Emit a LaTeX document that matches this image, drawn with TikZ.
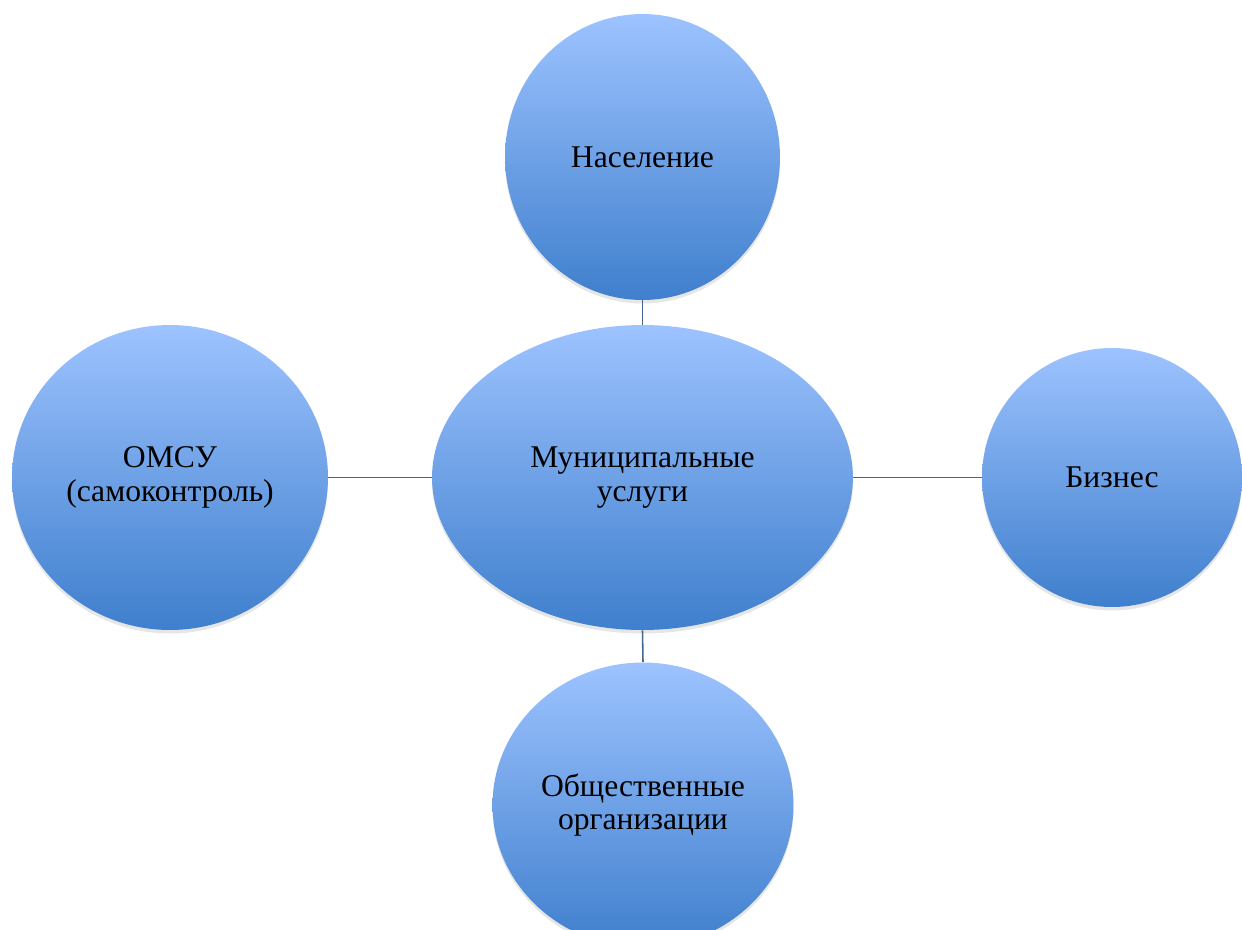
\documentclass[tikz,border=0pt]{standalone}
\usepackage{fontspec}
\setmainfont{Liberation Serif}
\usepackage{tikz}
\usetikzlibrary{shapes.geometric, shadows, positioning, calc}

\definecolor{bubtop}{HTML}{9DC3FF}
\definecolor{bubbot}{HTML}{3F7FCD}
\definecolor{linkcol}{HTML}{45678F}

\begin{document}
\begin{tikzpicture}[
    x=0.02cm, y=-0.02cm,
    bubble/.style={ellipse, draw=none, inner sep=0pt, align=center,
        top color=bubtop, bottom color=bubbot,
        font=\fontsize{18}{19}\selectfont,
        drop shadow={opacity=0.2, shadow xshift=0pt, shadow yshift=-2pt}},
    link/.style={linkcol, line width=0.9pt}
]
\useasboundingbox (0,0) rectangle (1242,930);
\clip (0,0) rectangle (1242,930);

% center
\node (Uslugi) at (642.5, 477.5) [bubble, minimum width=8.42cm, minimum height=6.1cm] {Муниципальные\\услуги};

% outer bubbles
\node (Nasel) at (642.5, 157) [bubble, minimum width=5.5cm, minimum height=5.72cm] {Население};
\node (Omsu) at (170, 477.5) [bubble, minimum width=6.32cm, minimum height=6.1cm] {ОМСУ\\(самоконтроль)};
\node (Biz) at (1112, 477.5) [bubble, minimum width=5.2cm, minimum height=5.18cm] {Бизнес};
\node (Obsch) at (643, 805) [bubble, minimum width=6.02cm, minimum height=5.7cm] {Общественные\\организации};

% links
\draw[link] (Nasel.south) -- (Uslugi.north);
\draw[link] (Omsu.east) -- (Uslugi.west);
\draw[link] (Uslugi.east) -- (Biz.west);
\draw[link] (Uslugi.south) -- (Obsch.north);
\end{tikzpicture}
\end{document}
